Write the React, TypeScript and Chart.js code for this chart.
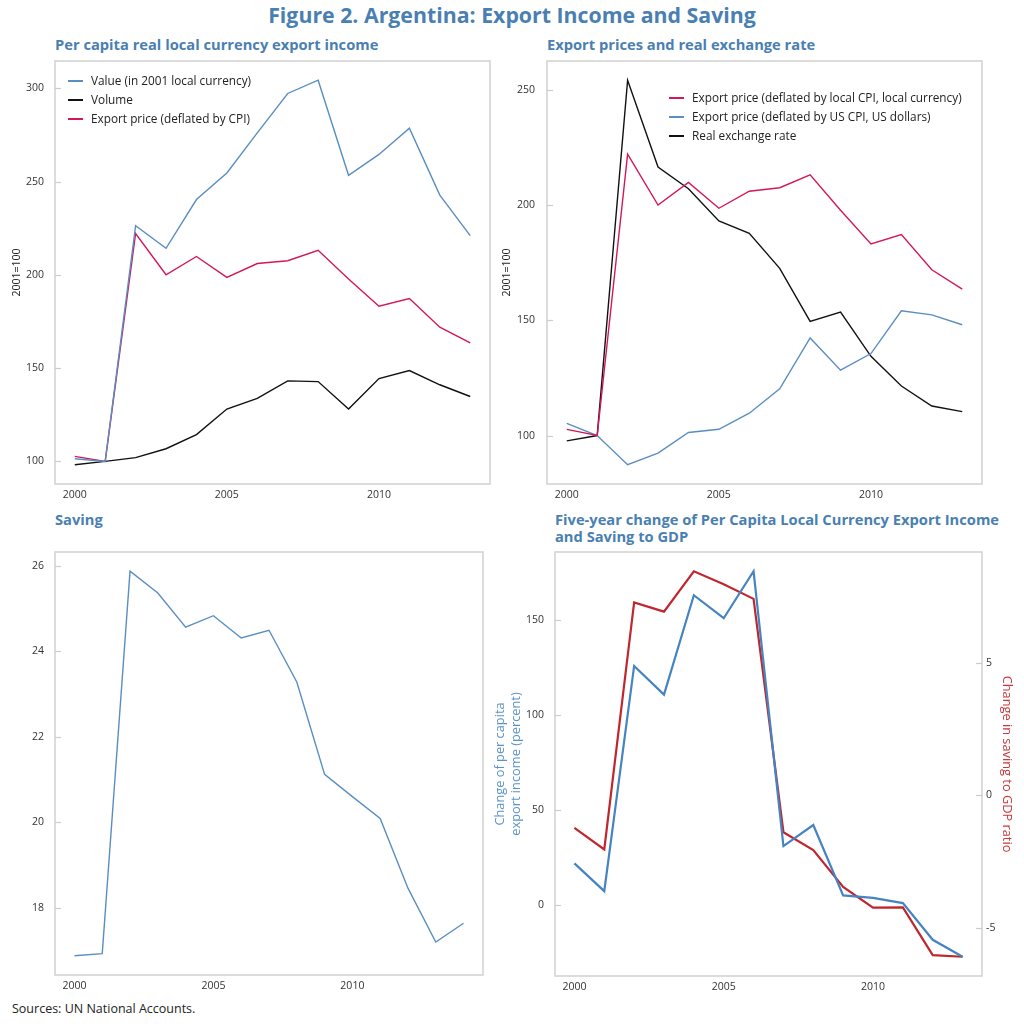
import { useEffect, useRef } from "react";
import Chart from "chart.js/auto";
import type { ChartConfiguration, Plugin } from "chart.js";

// --- data ---
const years13 = [2000, 2001, 2002, 2003, 2004, 2005, 2006, 2007, 2008, 2009, 2010, 2011, 2012, 2013];
const years14 = [...years13, 2014];
const yearTicks = [2000, 2005, 2010];

const exportValue = [101.4, 100, 226.4, 214.3, 240.4, 254.7, 276.2, 297.3, 304.4, 253.4, 264.6, 278.7, 242.8, 221.1];
const exportVolume = [98.2, 100, 102.0, 106.8, 114.4, 128.1, 133.8, 143.2, 142.8, 128.1, 144.4, 148.7, 141.1, 134.8];
const priceLocal = [102.7, 100, 222.2, 200.1, 209.9, 198.7, 206.1, 207.6, 213.2, 197.8, 183.2, 187.3, 172.0, 163.6];
const priceUsd = [105.3, 100, 87.3, 92.4, 101.3, 102.7, 109.7, 120.3, 142.4, 128.4, 135.6, 154.2, 152.4, 148.1];
const realExchangeRate = [97.7, 100, 254.3, 216.6, 207.2, 193.2, 187.8, 172.6, 149.6, 153.6, 134.4, 121.5, 112.8, 110.4];
const saving = [16.88, 16.93, 25.87, 25.36, 24.56, 24.83, 24.31, 24.49, 23.28, 21.12, 20.6, 20.09, 18.46, 17.2, 17.64];
const incomeChange5y = [22.1, 7.5, 126.0, 110.9, 163.2, 151.1, 175.8, 31.2, 42.3, 5.3, 4.0, 1.2, -18.1, -27.0];
const savingChange5y = [-1.23, -2.04, 7.27, 6.92, 8.44, 7.95, 7.4, -1.39, -2.06, -3.45, -4.23, -4.22, -6.02, -6.08];

const incomeTicks = [100, 150, 200, 250, 300];
const pricesTicks = [100, 150, 200, 250];
const savingTicks = [18, 20, 22, 24, 26];
const changeTicks = [0, 50, 100, 150];
const savingChangeTicks = [-5, 0, 5];

const BLUE = "#5a8ec1";
const CRIMSON = "#d3175b";
const BLACK = "#111111";
const BLUE4 = "#4584c0";
const RED4 = "#c0262d";
const TITLE_BLUE = "#4a7fb2";

Chart.defaults.font.family = "'Open Sans', sans-serif";
Chart.defaults.color = "#333";

// 5% padding around the data, like the original plots
const padRange = (vals: number[]) => {
  const lo = Math.min(...vals);
  const hi = Math.max(...vals);
  const d = (hi - lo) * 0.05;
  return { min: lo - d, max: hi + d };
};

const pts = (xs: number[], ys: number[]) => ys.map((y, i) => ({ x: xs[i], y }));

// stop the scales from pushing the chart area around
const noScalePadding = (s: any) => {
  s.paddingTop = 0;
  s.paddingBottom = 0;
  s.paddingLeft = 0;
  s.paddingRight = 0;
};

// light grey box around the plot plus short inward tick marks on y axes
const framePlugin: Plugin = {
  id: "frame",
  beforeDatasetsDraw(chart) {
    const { ctx, chartArea: a } = chart;
    ctx.save();
    ctx.strokeStyle = "#d4d4d4";
    ctx.lineWidth = 1.6;
    ctx.strokeRect(a.left, a.top, a.right - a.left, a.bottom - a.top);
    ctx.lineWidth = 1.2;
    ctx.strokeStyle = "#cccccc";
    Object.values(chart.scales).forEach((s: any) => {
      if (s.axis !== "y") return;
      s.ticks.forEach((t: any) => {
        const y = Math.round(s.getPixelForValue(t.value)) + 0.5;
        ctx.beginPath();
        if (s.position === "right") {
          ctx.moveTo(a.right - 6, y);
          ctx.lineTo(a.right, y);
        } else {
          ctx.moveTo(a.left, y);
          ctx.lineTo(a.left + 6, y);
        }
        ctx.stroke();
      });
    });
    ctx.restore();
  },
};

const xAxis = (years: number[], h: number) => ({
  type: "linear" as const,
  ...padRange(years),
  grid: { display: false, drawTicks: false },
  border: { display: false },
  ticks: { font: { size: 10.5 }, padding: 5, maxRotation: 0, callback: (v: any) => String(v) },
  afterBuildTicks: (s: any) => {
    s.ticks = yearTicks.map((value) => ({ value }));
  },
  afterFit: (s: any) => {
    s.height = h;
    noScalePadding(s);
  },
});

const yAxis = (vals: number[], ticks: number[], w: number, pad: number, extra: any = {}) => ({
  type: "linear" as const,
  ...padRange(vals),
  grid: { display: false, drawTicks: false },
  border: { display: false },
  ticks: { font: { size: 10.5 }, padding: pad, callback: (v: any) => String(v) },
  afterBuildTicks: (s: any) => {
    s.ticks = ticks.map((value) => ({ value }));
  },
  afterFit: (s: any) => {
    s.width = w;
    noScalePadding(s);
  },
  ...extra,
});

const line = (label: string, data: any[], color: string, width = 1.4, yAxisID = "y") => ({
  label,
  data,
  borderColor: color,
  backgroundColor: color,
  borderWidth: width,
  pointRadius: 0,
  tension: 0,
  yAxisID,
});

const baseOptions = (padding: any) => ({
  responsive: true,
  maintainAspectRatio: false,
  animation: false as const,
  layout: { padding },
  plugins: { legend: { display: false }, tooltip: { enabled: false } },
});

const incomeSeries = [
  { label: "Value (in 2001 local currency)", data: exportValue, color: BLUE },
  { label: "Volume", data: exportVolume, color: BLACK },
  { label: "Export price (deflated by CPI)", data: priceLocal, color: CRIMSON },
];

const priceSeries = [
  { label: "Export price (deflated by local CPI, local currency)", data: priceLocal, color: CRIMSON },
  { label: "Export price (deflated by US CPI, US dollars)", data: priceUsd, color: BLUE },
  { label: "Real exchange rate", data: realExchangeRate, color: BLACK },
];

const buildIncome = (): ChartConfiguration => ({
  type: "line",
  data: { datasets: incomeSeries.map((s) => line(s.label, pts(years13, s.data), s.color)) as any },
  options: {
    ...baseOptions({ top: 11, right: 10, left: 0, bottom: 0 }),
    scales: {
      x: xAxis(years13, 26),
      y: yAxis([...exportValue, ...exportVolume, ...priceLocal], incomeTicks, 55, 11, {
        title: { display: true, text: "2001=100", font: { size: 10.5 }, color: "#222", padding: { top: 11, bottom: 0 } },
      }),
    },
  } as any,
  plugins: [framePlugin],
});

const buildPrices = (): ChartConfiguration => ({
  type: "line",
  data: { datasets: priceSeries.map((s) => line(s.label, pts(years13, s.data), s.color)) as any },
  options: {
    ...baseOptions({ top: 11, right: 30, left: 0, bottom: 0 }),
    scales: {
      x: xAxis(years13, 26),
      y: yAxis([...priceLocal, ...priceUsd, ...realExchangeRate], pricesTicks, 47, 12, {
        title: { display: true, text: "2001=100", font: { size: 10.5 }, color: "#222", padding: { top: 1, bottom: 0 } },
      }),
    },
  } as any,
  plugins: [framePlugin],
});

const buildSaving = (): ChartConfiguration => ({
  type: "line",
  data: { datasets: [line("Saving", pts(years14, saving), BLUE)] as any },
  options: {
    ...baseOptions({ top: 12, right: 5, left: 0, bottom: 0 }),
    scales: {
      x: xAxis(years14, 25),
      y: yAxis(saving, savingTicks, 55, 11),
    },
  } as any,
  plugins: [framePlugin],
});

const buildChange = (): ChartConfiguration => ({
  type: "line",
  data: {
    datasets: [
      line("Change of per capita export income (percent)", pts(years13, incomeChange5y), BLUE4, 2.2, "y"),
      line("Change in saving to GDP ratio", pts(years13, savingChange5y), RED4, 2.2, "y1"),
    ] as any,
  },
  options: {
    ...baseOptions({ top: 12, right: 0, left: 0, bottom: 0 }),
    scales: {
      x: xAxis(years13, 24),
      y: yAxis(incomeChange5y, changeTicks, 67, 11, {
        position: "left",
        title: {
          display: true,
          text: ["Change of per capita", "export income (percent)"],
          font: { size: 12.8 },
          color: "#5b93c7",
          padding: { top: 5, bottom: 0 },
        },
      }),
      y1: yAxis(savingChange5y, savingChangeTicks, 42, 4, {
        position: "right",
        title: {
          display: true,
          text: "Change in saving to GDP ratio",
          font: { size: 12.8 },
          color: "#c8383c",
          padding: { top: 9.5, bottom: 0 },
        },
      }),
    },
  } as any,
  plugins: [framePlugin],
});

const Panel = ({
  left,
  top,
  width,
  height,
  build,
}: {
  left: number;
  top: number;
  width: number;
  height: number;
  build: () => ChartConfiguration;
}) => {
  const canvasRef = useRef<HTMLCanvasElement | null>(null);

  useEffect(() => {
    if (!canvasRef.current) return;
    const chart = new Chart(canvasRef.current, build());
    return () => chart.destroy();
  }, [build]);

  return (
    <div style={{ position: "absolute", left, top, width, height }}>
      <canvas ref={canvasRef}></canvas>
    </div>
  );
};

const Legend = ({
  left,
  top,
  items,
}: {
  left: number;
  top: number;
  items: { label: string; color: string }[];
}) => (
  <div style={{ position: "absolute", left, top, fontSize: 11.8, color: "#222", lineHeight: "19px" }}>
    {items.map((it) => (
      <div key={it.label} style={{ display: "flex", alignItems: "center", height: 19, whiteSpace: "nowrap" }}>
        <span style={{ display: "inline-block", width: 15, height: 2, background: it.color, marginRight: 8 }} />
        {it.label}
      </div>
    ))}
  </div>
);

const subTitle = { position: "absolute" as const, fontWeight: 700, fontSize: 14.7, color: TITLE_BLUE, lineHeight: "17px" };

const App = () => (
  <div style={{ position: "fixed", inset: 0, width: 1024, height: 1024, background: "#fff", fontFamily: "'Open Sans', sans-serif", overflow: "hidden" }}>
    <div style={{ position: "absolute", top: 0, left: 0, width: 1024, textAlign: "center", fontWeight: 700, fontSize: 21.3, color: TITLE_BLUE }}>
      Figure 2. Argentina: Export Income and Saving
    </div>

    <div style={{ ...subTitle, left: 55, top: 36 }}>Per capita real local currency export income</div>
    <div style={{ ...subTitle, left: 547, top: 36 }}>Export prices and real exchange rate</div>
    <div style={{ ...subTitle, left: 55, top: 511 }}>Saving</div>
    <div style={{ ...subTitle, left: 555, top: 511 }}>
      Five-year change of Per Capita Local Currency Export Income
      <br />
      and Saving to GDP
    </div>

    <Panel left={0} top={50} width={500} height={460} build={buildIncome} />
    <Panel left={500} top={50} width={512} height={460} build={buildPrices} />
    <Panel left={0} top={540} width={488} height={460} build={buildSaving} />
    <Panel left={488} top={540} width={536} height={460} build={buildChange} />

    <Legend left={68} top={71} items={incomeSeries} />
    <Legend left={669} top={88} items={priceSeries} />

    <div style={{ position: "absolute", left: 12, top: 1000, fontSize: 12.5, color: "#222" }}>Sources: UN National Accounts.</div>
  </div>
);

export default App;
